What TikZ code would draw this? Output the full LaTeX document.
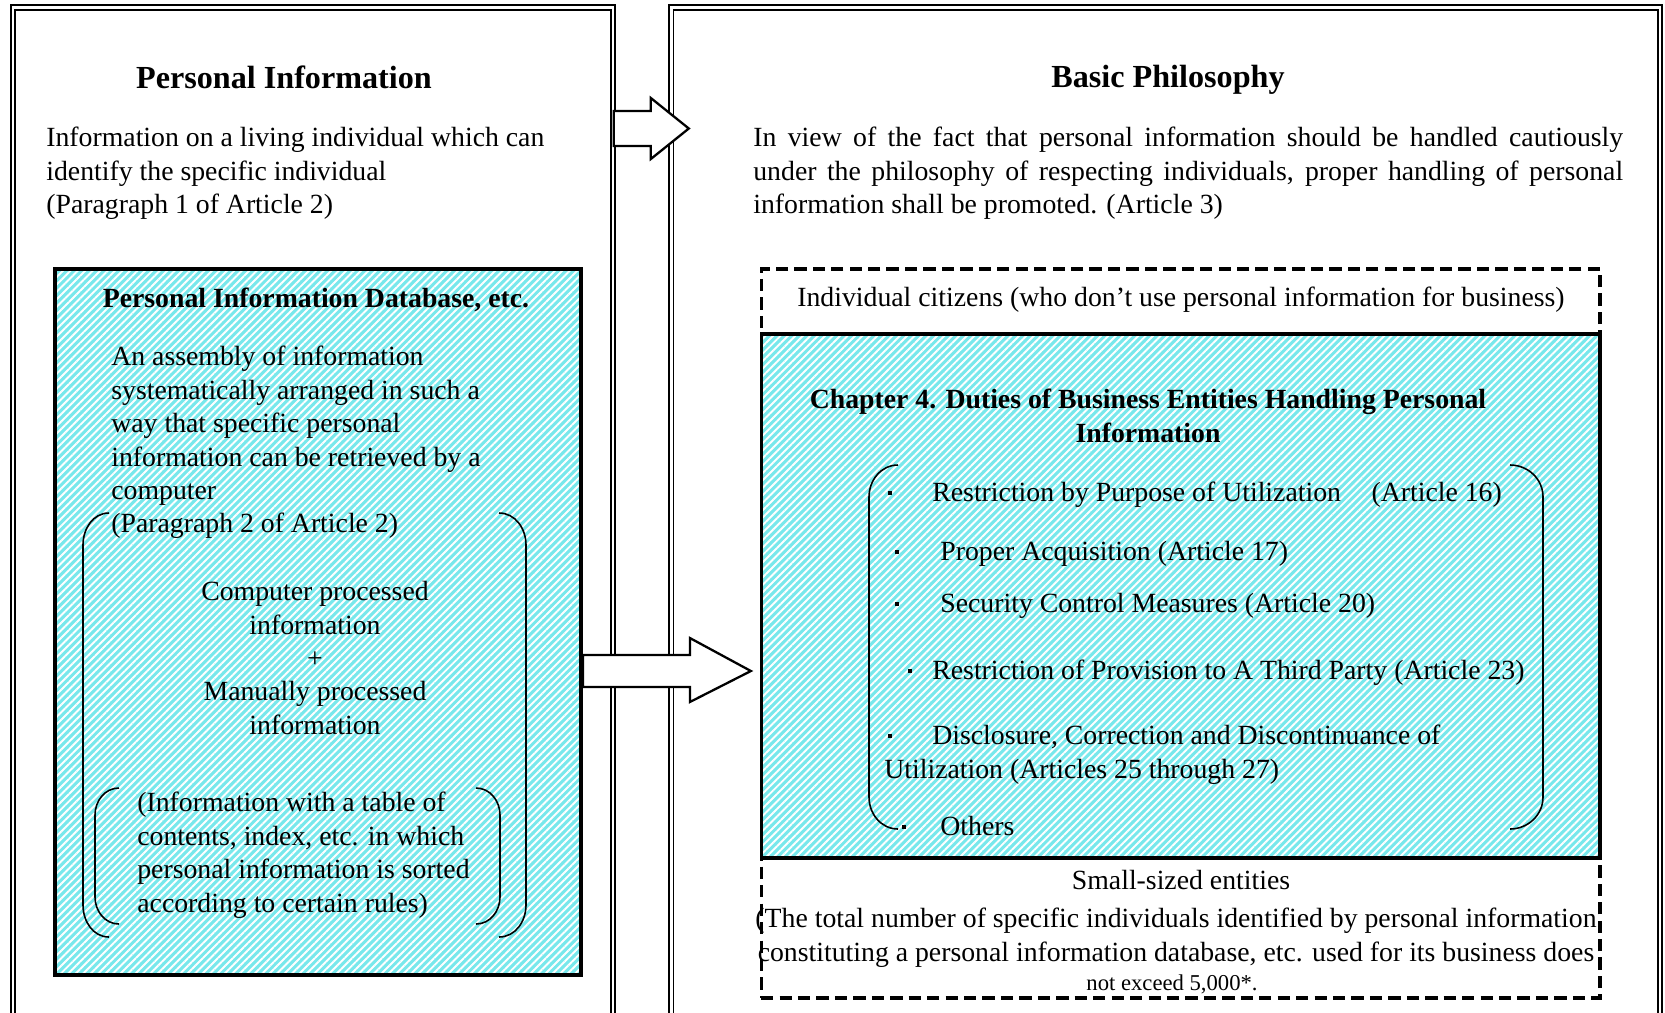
\documentclass[tikz,border=0pt]{standalone}
\usepackage{fontspec}
\setmainfont{Liberation Serif}
\usetikzlibrary{positioning, calc, patterns.meta}

\definecolor{hatchcyan}{RGB}{120,232,236}

\newcommand\bodyfont{\fontsize{15.8}{19}\selectfont}
\newcommand\headfont{\fontsize{18.3}{22}\selectfont\bfseries}
\newcommand\notefont{\fontsize{12.9}{15}\selectfont}

\begin{document}
\begin{tikzpicture}[
  x=0.02cm, y=-0.02cm,
  font=\bodyfont,
  panel/.style={draw, line width=1pt, double, double distance=1.6pt, inner sep=0pt},
  hatched/.style={preaction={fill=hatchcyan},
                  pattern={Lines[angle=45, distance=3pt, line width=1.1pt]}, pattern color=white},
  dbbox/.style={draw, hatched, line width=2.2pt, inner sep=0pt},
  chbox/.style={draw, hatched, line width=1.8pt, inner sep=0pt},
  dashbox/.style={draw, line width=1.8pt, dash pattern=on 7pt off 3.5pt, inner sep=0pt},
  txt/.style={inner sep=0pt, align=left},
  head/.style={inner sep=0pt, font=\headfont},
  brk/.style={line width=0.9pt},
  dot/.style={fill, inner sep=0pt, minimum size=2.6pt},
  barrow/.style={draw, fill=white, line width=1.3pt, line join=miter},
]
\useasboundingbox (0,0) rectangle (1665,1012);
\clip (0,0) rectangle (1665,1012);
\fill[white] (0,0) rectangle (1665,1012);

\node[panel, minimum width=12cm, minimum height=20.65cm] (lpanel) at (313,523.75) {};
\node[panel, minimum width=19.78cm, minimum height=20.65cm] (rpanel) at (1165.5,523.75) {};

\node[head] (ptitle) at (284,77) {Personal Information};
\node[txt, anchor=north west] (pdef) at (46,127)
    {Information on a living individual which can\\identify the specific individual\\(Paragraph 1 of Article 2)};

\node[dbbox, minimum width=10.52cm, minimum height=14.12cm] (db) at (318,622) {};
\node[inner sep=0pt, font=\bodyfont\bfseries] (dbtitle) at (316,300) {Personal Information Database, etc.};
\node[txt, anchor=north west] (dbdef) at (111,346)
    {An assembly of information\\systematically arranged in such a\\way that specific personal\\information can be retrieved by a\\computer\\(Paragraph 2 of Article 2)};
\node[txt, align=center, anchor=north] (kinds) at (315,581)
    {Computer processed\\information\\+\\Manually processed\\information};
\node[txt, anchor=north west] (manual) at (137,792)
    {(Information with a table of\\contents, index, etc. in which\\personal information is sorted\\according to certain rules)};

\draw[brk] (109,513) to[out=180,in=90] (83,545) -- (83,905) to[out=-90,in=180] (109,937);
\draw[brk] (499,513) to[out=0,in=90] (526,545) -- (526,905) to[out=-90,in=0] (499,937);
\draw[brk] (119,788) to[out=180,in=90] (95,815) -- (95,897) to[out=-90,in=180] (119,924);
\draw[brk] (476,788) to[out=0,in=90] (500,815) -- (500,897) to[out=-90,in=0] (476,924);

\node[head] (btitle) at (1168,80) {Basic Philosophy};
\node[txt, anchor=north west] (phil) at (753,127)
    {\makebox[17.4cm][s]{In view of the fact that personal information should be handled cautiously}\\
     \makebox[17.4cm][s]{under the philosophy of respecting individuals, proper handling of personal}\\
     information shall be promoted. (Article 3)};

\node[chbox, minimum width=16.78cm, minimum height=10.48cm] (ch) at (1180.5,596) {};
\node[dashbox, minimum width=16.78cm, minimum height=1.3cm] (citbox) at (1180.5,301.5) {};
\node[dashbox, minimum width=16.78cm, minimum height=2.8cm] (smallbox) at (1180.5,928) {};

\node[inner sep=0pt] (cit) at (1181,300)
    {Individual citizens (who don’t use personal information for business)};
\node[txt, align=center, anchor=north, font=\bodyfont\bfseries] (chtitle) at (1148,389)
    {Chapter 4. Duties of Business Entities Handling Personal\\Information};

\draw[brk] (898,465) to[out=180,in=90] (869,497) -- (869,797) to[out=-90,in=180] (898,829);
\draw[brk] (1510,465) to[out=0,in=90] (1543,497) -- (1543,797) to[out=-90,in=0] (1510,829);

\foreach \bx/\by [count=\i] in {890/493, 897/552, 897/604, 910/671, 890/736, 904/827}
  \node[dot] (bul\i) at (\bx,\by) {};

\node[txt, anchor=base west] (it1) at (932,501) {Restriction by Purpose of Utilization\hspace{1.1em}(Article 16)};
\node[txt, anchor=base west] (it2) at (940,560) {Proper Acquisition (Article 17)};
\node[txt, anchor=base west] (it3) at (940,612) {Security Control Measures (Article 20)};
\node[txt, anchor=base west] (it4) at (932,679) {Restriction of Provision to A Third Party (Article 23)};
\node[txt, anchor=north west] (it5) at (884,725)
    {\hspace*{0.96cm}Disclosure, Correction and Discontinuance of\\Utilization (Articles 25 through 27)};
\node[txt, anchor=base west] (it6) at (940,835) {Others};

\node[inner sep=0pt] (smallhead) at (1181,880) {Small-sized entities};
\node[txt, align=center, anchor=north] (smalltext) at (1176,908)
    {(The total number of specific individuals identified by personal information\\constituting a personal information database, etc. used for its business does};
\node[inner sep=0pt, font=\notefont] (smallnote) at (1172,984) {not exceed 5,000*.};

\coordinate (a1) at (lpanel.east |- 0,128.5);
\draw[barrow] ($(a1)+(0,-17.5)$) -- ++(37,0) -- ++(0,-13) -- ($(a1)+(75,0)$)
    -- ($(a1)+(37,30.5)$) -- ++(0,-13) -- ($(a1)+(0,17.5)$) -- cycle;

\coordinate (a2) at (db.east |- 0,671);
\draw[barrow] ($(a2)+(0,-16)$) -- ++(107,0) -- ++(0,-17) -- ($(a2)+(168,0)$)
    -- ($(a2)+(107,31)$) -- ++(0,-15) -- ($(a2)+(0,16)$) -- cycle;

\end{tikzpicture}
\end{document}
